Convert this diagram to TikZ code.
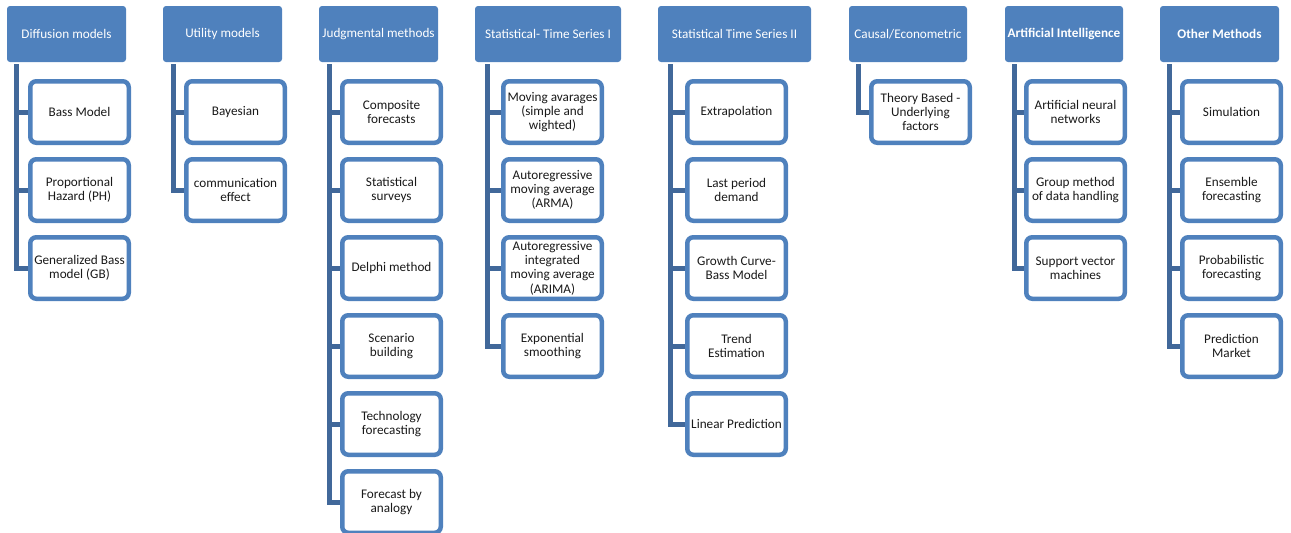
\documentclass[tikz,border=0pt]{standalone}
\usepackage{fontspec}
\setmainfont{Carlito}
\usetikzlibrary{backgrounds}
\definecolor{hdr}{HTML}{4F81BD}
\definecolor{spn}{HTML}{41689A}
\definecolor{txt}{HTML}{1A1A1A}
\begin{document}
\begin{tikzpicture}[x=1pt,y=-1pt,
 head/.style={fill=hdr, rounded corners=3pt, minimum width=119pt, minimum height=56pt, inner sep=0pt, text=white, font=\fontsize{13.2}{14.3}\selectfont, align=center},
 item/.style={draw=hdr, line width=4.5pt, fill=white, rounded corners=6pt, minimum width=98.5pt, minimum height=61.5pt, inner sep=0pt, text=txt, font=\fontsize{13.2}{14.3}\selectfont, align=center},
 spine/.style={draw=spn, line width=5pt, line join=miter}]
\useasboundingbox (0,0) rectangle (1291,533);

% headers
\node[head] (h1) at (66.5,34) {Diffusion models};
\node[head] (h2) at (222.5,34) {Utility models};
\node[head] (h3) at (378.5,34) {Judgmental methods};
\node[head, minimum width=146pt] (h4) at (548,34) {Statistical- Time Series I};
\node[head, minimum width=153pt] (h5) at (734.5,34) {Statistical Time Series II};
\node[head, minimum width=118pt] (h6) at (908,34) {Causal/Econometric};
\node[head, minimum width=118pt, font=\fontsize{13.2}{14.3}\selectfont\bfseries] (h7) at (1064,34) {Artificial Intelligence};
\node[head, font=\fontsize{13.2}{14.3}\selectfont\bfseries] (h8) at (1219.5,34) {Other Methods};

% spine tops
\coordinate (s1) at (16.5,64);
\coordinate (s2) at (173,64);
\coordinate (s3) at (329.5,64);
\coordinate (s4) at (487.5,64);
\coordinate (s5) at (670.5,64);
\coordinate (s6) at (858.5,64);
\coordinate (s7) at (1014.5,64);
\coordinate (s8) at (1169.5,64);

% column 1
\node[item] (c11) at (79.5,112) {Bass Model};
\node[item] (c12) at (79.5,190) {Proportional\\Hazard (PH)};
\node[item] (c13) at (79.5,268) {Generalized Bass\\model (GB)};
% column 2
\node[item] (c21) at (235.5,112) {Bayesian};
\node[item] (c22) at (235.5,190) {communication\\effect};
% column 3
\node[item] (c31) at (391.5,112) {Composite\\forecasts};
\node[item] (c32) at (391.5,190) {Statistical\\surveys};
\node[item] (c33) at (391.5,268) {Delphi method};
\node[item] (c34) at (391.5,346) {Scenario\\building};
\node[item] (c35) at (391.5,424) {Technology\\forecasting};
\node[item] (c36) at (391.5,502) {Forecast by\\analogy};
% column 4
\node[item] (c41) at (552.5,112) {Moving avarages\\(simple and\\wighted)};
\node[item] (c42) at (552.5,190) {Autoregressive\\moving average\\(ARMA)};
\node[item] (c43) at (552.5,268) {Autoregressive\\integrated\\moving average\\(ARIMA)};
\node[item] (c44) at (552.5,346) {Exponential\\smoothing};
% column 5
\node[item] (c51) at (736.5,112) {Extrapolation};
\node[item] (c52) at (736.5,190) {Last period\\demand};
\node[item] (c53) at (736.5,268) {Growth Curve-\\Bass Model};
\node[item] (c54) at (736.5,346) {Trend\\Estimation};
\node[item] (c55) at (736.5,424) {Linear Prediction};
% column 6
\node[item] (c61) at (920.5,112) {Theory Based -\\Underlying\\factors};
% column 7
\node[item] (c71) at (1075.5,112) {Artificial neural\\networks};
\node[item] (c72) at (1075.5,190) {Group method\\of data handling};
\node[item] (c73) at (1075.5,268) {Support vector\\machines};
% column 8
\node[item] (c81) at (1231.5,112) {Simulation};
\node[item] (c82) at (1231.5,190) {Ensemble\\forecasting};
\node[item] (c83) at (1231.5,268) {Probabilistic\\forecasting};
\node[item] (c84) at (1231.5,346) {Prediction\\Market};

% spines
\begin{scope}[on background layer]
\draw[spine] (s1) |- (c13.west);
\draw[spine] (s1 |- c11) -- (c11.west);
\draw[spine] (s1 |- c12) -- (c12.west);
\draw[spine] (s2) |- (c22.west);
\draw[spine] (s2 |- c21) -- (c21.west);
\draw[spine] (s3) |- (c36.west);
\foreach \k in {1,...,5} {\draw[spine] (s3 |- c3\k) -- (c3\k.west);}
\draw[spine] (s4) |- (c44.west);
\foreach \k in {1,...,3} {\draw[spine] (s4 |- c4\k) -- (c4\k.west);}
\draw[spine] (s5) |- (c55.west);
\foreach \k in {1,...,4} {\draw[spine] (s5 |- c5\k) -- (c5\k.west);}
\draw[spine] (s6) |- (c61.west);
\draw[spine] (s7) |- (c73.west);
\foreach \k in {1,...,2} {\draw[spine] (s7 |- c7\k) -- (c7\k.west);}
\draw[spine] (s8) |- (c84.west);
\foreach \k in {1,...,3} {\draw[spine] (s8 |- c8\k) -- (c8\k.west);}
\end{scope}
\end{tikzpicture}
\end{document}
